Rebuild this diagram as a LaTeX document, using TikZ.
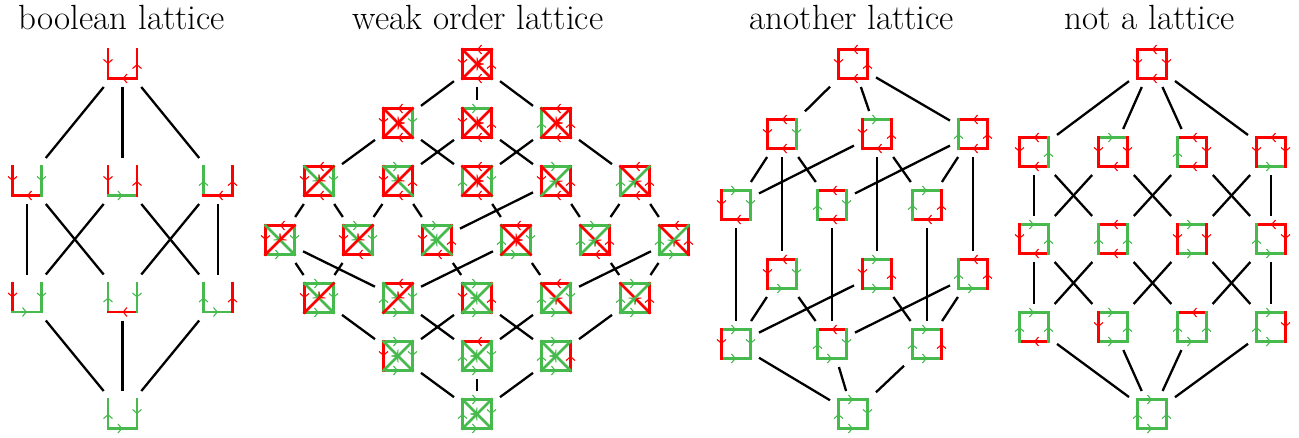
\documentclass[tikz,border=0pt]{standalone}
\usetikzlibrary{arrows.meta,decorations.markings}
\definecolor{gn}{RGB}{70,186,76}
\definecolor{rd}{RGB}{255,0,0}
\tikzset{
  edgebase/.style={line width=2.5pt, line cap=rect, postaction={decorate},
    decoration={markings, mark=at position 0.5 with {\arrow{Straight Barb[length=3.8pt,width=9pt,line width=1.1pt]}}}},
  gedge/.style={edgebase, color=gn},
  redge/.style={edgebase, color=rd},
  hit/.style={rectangle, minimum size=46pt, inner sep=0pt, outer sep=0pt, draw=none},
  conn/.style={line width=2.3pt, black},
  ttl/.style={anchor=base, inner sep=0pt, font=\fontsize{35}{40}\selectfont}
}
% G: reference direction in green, R: reversed in red
\newcommand\seg[3]{\if#1G\draw[gedge] (#2) -- (#3);\else\draw[redge] (#3) -- (#2);\fi}
% boolean: name x y L B R
\newcommand\bn[6]{\node[hit] (#1) at (#2,#3) {};
  \begin{scope}[shift={(#2,#3)}]
  \seg{#4}{-14.5,14.5}{-14.5,-14.5}\seg{#5}{-14.5,14.5}{14.5,14.5}\seg{#6}{14.5,-14.5}{14.5,14.5}
  \end{scope}}
% weak order: name x y T B L R D1 D2
\newcommand\wk[9]{\node[hit] (#1) at (#2,#3) {};
  \begin{scope}[shift={(#2,#3)}]
  \seg{#4}{-14.5,-14.5}{14.5,-14.5}\seg{#5}{-14.5,14.5}{14.5,14.5}\seg{#6}{-14.5,14.5}{-14.5,-14.5}\seg{#7}{14.5,-14.5}{14.5,14.5}\seg{#8}{-14.5,-14.5}{14.5,14.5}\seg{#9}{-14.5,14.5}{14.5,-14.5}
  \end{scope}}
% another lattice: name x y T B L R
\newcommand\an[7]{\node[hit] (#1) at (#2,#3) {};
  \begin{scope}[shift={(#2,#3)}]
  \seg{#4}{-14.5,-14.5}{14.5,-14.5}\seg{#5}{-14.5,14.5}{14.5,14.5}\seg{#6}{-14.5,14.5}{-14.5,-14.5}\seg{#7}{14.5,-14.5}{14.5,14.5}
  \end{scope}}
% not a lattice: name x y T B L R
\newcommand\nn[7]{\node[hit] (#1) at (#2,#3) {};
  \begin{scope}[shift={(#2,#3)}]
  \seg{#4}{-14.5,-14.5}{14.5,-14.5}\seg{#5}{-14.5,14.5}{14.5,14.5}\seg{#6}{-14.5,14.5}{-14.5,-14.5}\seg{#7}{14.5,14.5}{14.5,-14.5}
  \end{scope}}
\begin{document}
\begin{tikzpicture}[x=1pt,y=-1pt]
\useasboundingbox (0,0) rectangle (1299,437);
\node[ttl] (t1) at (122,29) {boolean lattice};
\node[ttl] (t2) at (478,29) {weak order lattice};
\node[ttl] (t3) at (852,29) {another lattice};
\node[ttl] (t4) at (1150,29) {not a lattice};
% ---------- boolean lattice
\bn{b0}{122.5}{64}{R}{R}{R}
\bn{b1}{27}{181}{R}{R}{G}
\bn{b2}{122.5}{181}{R}{G}{R}
\bn{b3}{218}{181}{G}{R}{R}
\bn{b4}{27}{297.5}{R}{G}{G}
\bn{b5}{122.5}{297.5}{G}{R}{G}
\bn{b6}{218}{297.5}{G}{G}{R}
\bn{b7}{122.5}{414}{G}{G}{G}
\foreach \a/\b in {b0/b1,b0/b2,b0/b3,b1/b4,b1/b5,b2/b4,b2/b6,b3/b5,b3/b6,b4/b7,b5/b7,b6/b7}
  \draw[conn] (\a) -- (\b);
% ---------- weak order lattice
\wk{w0}{477}{64}{R}{R}{R}{R}{R}{R}
\wk{w1}{398}{123}{R}{R}{R}{G}{R}{R}
\wk{w2}{477}{123}{G}{R}{R}{R}{R}{R}
\wk{w3}{556}{123}{R}{R}{G}{R}{R}{R}
\wk{w4}{319}{181}{R}{R}{R}{G}{G}{R}
\wk{w5}{398}{181}{G}{R}{R}{R}{G}{R}
\wk{w6}{477}{181}{R}{R}{G}{G}{R}{R}
\wk{w7}{556}{181}{G}{R}{R}{R}{R}{G}
\wk{w8}{635}{181}{R}{R}{G}{R}{R}{G}
\wk{w9}{280}{240}{R}{G}{R}{G}{G}{R}
\wk{w10}{358}{240}{G}{R}{R}{G}{G}{R}
\wk{w11}{437}{240}{G}{R}{R}{R}{G}{G}
\wk{w12}{516}{240}{R}{G}{G}{G}{R}{R}
\wk{w13}{595}{240}{G}{R}{G}{R}{R}{G}
\wk{w14}{674}{240}{R}{G}{G}{R}{R}{G}
\wk{w15}{319}{298}{G}{G}{R}{G}{G}{R}
\wk{w16}{398}{298}{R}{G}{G}{G}{G}{R}
\wk{w17}{477}{298}{G}{G}{R}{R}{G}{G}
\wk{w18}{556}{298}{R}{G}{G}{G}{R}{G}
\wk{w19}{635}{298}{G}{G}{G}{R}{R}{G}
\wk{w20}{398}{356}{G}{G}{R}{G}{G}{G}
\wk{w21}{477}{356}{R}{G}{G}{G}{G}{G}
\wk{w22}{556}{356}{G}{G}{G}{R}{G}{G}
\wk{w23}{477}{414}{G}{G}{G}{G}{G}{G}
\foreach \a/\b in {w0/w1,w0/w2,w0/w3,w1/w4,w1/w6,w2/w5,w2/w7,w3/w6,w3/w8,
  w4/w9,w4/w10,w5/w10,w5/w11,w6/w12,w7/w11,w7/w13,w8/w13,w8/w14,
  w9/w15,w9/w16,w10/w15,w11/w17,w12/w16,w12/w18,w13/w19,w14/w18,w14/w19,
  w15/w20,w16/w21,w17/w20,w17/w22,w18/w21,w19/w22,w20/w23,w21/w23,w22/w23}
  \draw[conn] (\a) -- (\b);
% ---------- another lattice
\an{a0}{853}{64}{R}{R}{R}{R}
\an{a1}{782}{134}{R}{R}{R}{G}
\an{a2}{877}{134}{G}{R}{R}{R}
\an{a3}{973}{134}{R}{R}{G}{R}
\an{a4}{736}{205}{G}{R}{R}{G}
\an{a5}{832}{205}{R}{R}{G}{G}
\an{a6}{927}{205}{G}{R}{G}{R}
\an{a7}{782}{274}{R}{G}{R}{G}
\an{a8}{877}{274}{G}{G}{R}{R}
\an{a9}{973}{274}{R}{G}{G}{R}
\an{a10}{736}{344}{G}{G}{R}{G}
\an{a11}{832}{344}{R}{G}{G}{G}
\an{a12}{927}{344}{G}{G}{G}{R}
\an{a13}{853}{414}{G}{G}{G}{G}
\foreach \a/\b in {a0/a1,a0/a2,a0/a3,a1/a4,a1/a5,a1/a7,a2/a4,a2/a6,a2/a8,a3/a5,a3/a6,a3/a9,
  a4/a10,a5/a11,a6/a12,a7/a10,a7/a11,a8/a10,a8/a12,a9/a11,a9/a12,a10/a13,a11/a13,a12/a13}
  \draw[conn] (\a) -- (\b);
% ---------- not a lattice
\nn{n0}{1152}{64}{R}{R}{R}{R}
\nn{n1}{1034}{152}{R}{R}{R}{G}
\nn{n2}{1113}{152}{G}{R}{R}{R}
\nn{n3}{1192}{152}{R}{R}{G}{R}
\nn{n4}{1271}{152}{R}{G}{R}{R}
\nn{n5}{1034}{239}{G}{R}{R}{G}
\nn{n6}{1113}{239}{R}{R}{G}{G}
\nn{n7}{1192}{239}{G}{G}{R}{R}
\nn{n8}{1271}{239}{R}{G}{G}{R}
\nn{n9}{1034}{327}{G}{R}{G}{G}
\nn{n10}{1113}{327}{G}{G}{R}{G}
\nn{n11}{1192}{327}{R}{G}{G}{G}
\nn{n12}{1271}{327}{G}{G}{G}{R}
\nn{n13}{1152}{414}{G}{G}{G}{G}
\foreach \a/\b in {n0/n1,n0/n2,n0/n3,n0/n4,n1/n5,n1/n6,n2/n5,n2/n7,n3/n6,n3/n8,n4/n7,n4/n8,
  n5/n9,n5/n10,n6/n9,n6/n11,n7/n10,n7/n12,n8/n11,n8/n12,n9/n13,n10/n13,n11/n13,n12/n13}
  \draw[conn] (\a) -- (\b);
\end{tikzpicture}
\end{document}
